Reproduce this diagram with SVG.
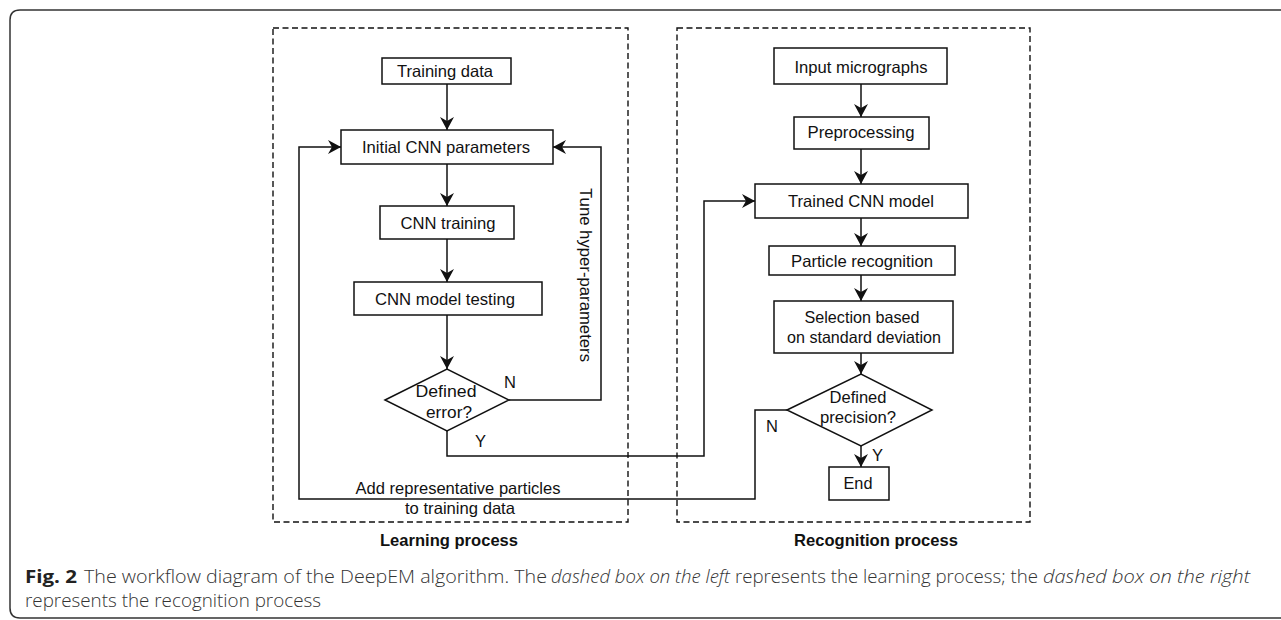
<svg xmlns="http://www.w3.org/2000/svg" width="1281" height="620" viewBox="0 0 1281 620">
  <style>
    .frame { fill: none; stroke: #333; stroke-width: 1.5; }
    .dash { fill: none; stroke: #111; stroke-width: 1.4; stroke-dasharray: 6 3.5; }
    .box { fill: #fff; stroke: #111; stroke-width: 1.5; }
    .wire { fill: none; stroke: #111; stroke-width: 1.5; }
    .lbl { font-family: "Liberation Sans", Arial, sans-serif; font-size: 16.5px; fill: #111; }
    .mid { text-anchor: middle; }
    .bold { font-weight: bold; }
    .cap { font-family: "Open Sans", "Noto Sans", sans-serif; font-size: 18px; font-weight: 300; fill: #333; }
    .it { font-style: italic; }
    .fig { font-weight: bold; fill: #222; }
  </style>
  <defs>
    <marker id="arrow" viewBox="0 0 13 14" refX="13" refY="7" markerWidth="13" markerHeight="14" markerUnits="userSpaceOnUse" orient="auto">
      <path d="M0,0 L13,7 L0,14 L4,7 Z" fill="#111"/>
    </marker>
  </defs>

  <rect width="1281" height="620" fill="#fff"/>
  <!-- figure frame, open on the right -->
  <path class="frame" d="M1290,10 H20 Q10,10 10,20 V608 Q10,618 20,618 H1290"/>

  <!-- process regions -->
  <g id="learning-region">
    <rect class="dash" x="273" y="28" width="355" height="494"/>
    <text class="lbl mid bold" x="449" y="546" textLength="138" lengthAdjust="spacingAndGlyphs">Learning process</text>
  </g>
  <g id="recognition-region">
    <rect class="dash" x="677" y="28" width="353" height="494"/>
    <text class="lbl mid bold" x="876" y="546" textLength="164" lengthAdjust="spacingAndGlyphs">Recognition process</text>
  </g>

  <!-- connectors -->
  <g id="connectors">
    <path class="wire" d="M447,84 V130" marker-end="url(#arrow)"/>
    <path class="wire" d="M447,164 V206" marker-end="url(#arrow)"/>
    <path class="wire" d="M447,239 V282" marker-end="url(#arrow)"/>
    <path class="wire" d="M447,315 V369" marker-end="url(#arrow)"/>
    <path class="wire" d="M509,400 H601 V147 H553" marker-end="url(#arrow)"/>
    <path class="wire" d="M447,431 V456 H704 V201 H755" marker-end="url(#arrow)"/>
    <path class="wire" d="M787,410 H755 V499 H299 V147 H341" marker-end="url(#arrow)"/>
    <path class="wire" d="M861,84 V117" marker-end="url(#arrow)"/>
    <path class="wire" d="M861,149 V184" marker-end="url(#arrow)"/>
    <path class="wire" d="M861,218 V246" marker-end="url(#arrow)"/>
    <path class="wire" d="M861,275 V301" marker-end="url(#arrow)"/>
    <path class="wire" d="M861,353 V374" marker-end="url(#arrow)"/>
    <path class="wire" d="M861,446 V467" marker-end="url(#arrow)"/>
    <text class="lbl" x="580" y="188" transform="rotate(90 580 188)" textLength="174" lengthAdjust="spacingAndGlyphs">Tune hyper-parameters</text>
    <text class="lbl" x="504" y="388">N</text>
    <text class="lbl" x="475" y="447">Y</text>
    <text class="lbl mid" x="458" y="494" textLength="205" lengthAdjust="spacingAndGlyphs">Add representative particles</text>
    <text class="lbl mid" x="460" y="514" textLength="110" lengthAdjust="spacingAndGlyphs">to training data</text>
    <text class="lbl" x="766" y="432">N</text>
    <text class="lbl" x="872" y="461">Y</text>
  </g>

  <!-- learning process nodes -->
  <g id="training-data">
    <rect class="box" x="382" y="58" width="129" height="26"/>
    <text class="lbl mid" x="445" y="77" textLength="96" lengthAdjust="spacingAndGlyphs">Training data</text>
  </g>
  <g id="initial-cnn">
    <rect class="box" x="341" y="130" width="212" height="34"/>
    <text class="lbl mid" x="446" y="153" textLength="168" lengthAdjust="spacingAndGlyphs">Initial CNN parameters</text>
  </g>
  <g id="cnn-training">
    <rect class="box" x="380" y="206" width="134" height="33"/>
    <text class="lbl mid" x="448" y="229" textLength="95" lengthAdjust="spacingAndGlyphs">CNN training</text>
  </g>
  <g id="cnn-testing">
    <rect class="box" x="354" y="282" width="188" height="33"/>
    <text class="lbl mid" x="445" y="305" textLength="140" lengthAdjust="spacingAndGlyphs">CNN model testing</text>
  </g>
  <g id="error-check">
    <polygon class="box" points="385,400 447,369 509,400 447,431"/>
    <text class="lbl mid" x="446" y="397" textLength="61" lengthAdjust="spacingAndGlyphs">Defined</text>
    <text class="lbl mid" x="449" y="418" textLength="46" lengthAdjust="spacingAndGlyphs">error?</text>
  </g>

  <!-- recognition process nodes -->
  <g id="input-micrographs">
    <rect class="box" x="774" y="48" width="173" height="36"/>
    <text class="lbl mid" x="861" y="73" textLength="133" lengthAdjust="spacingAndGlyphs">Input micrographs</text>
  </g>
  <g id="preprocessing">
    <rect class="box" x="794" y="117" width="135" height="32"/>
    <text class="lbl mid" x="861" y="138" textLength="107" lengthAdjust="spacingAndGlyphs">Preprocessing</text>
  </g>
  <g id="trained-cnn">
    <rect class="box" x="755" y="184" width="213" height="34"/>
    <text class="lbl mid" x="861" y="207" textLength="146" lengthAdjust="spacingAndGlyphs">Trained CNN model</text>
  </g>
  <g id="particle-recognition">
    <rect class="box" x="769" y="246" width="186" height="29"/>
    <text class="lbl mid" x="862" y="267" textLength="142" lengthAdjust="spacingAndGlyphs">Particle recognition</text>
  </g>
  <g id="selection">
    <rect class="box" x="774" y="301" width="179" height="52"/>
    <text class="lbl mid" x="862" y="323" textLength="115" lengthAdjust="spacingAndGlyphs">Selection based</text>
    <text class="lbl mid" x="864" y="343" textLength="154" lengthAdjust="spacingAndGlyphs">on standard deviation</text>
  </g>
  <g id="precision-check">
    <polygon class="box" points="787,410 861,374 932,410 861,446"/>
    <text class="lbl mid" x="858" y="403" textLength="57" lengthAdjust="spacingAndGlyphs">Defined</text>
    <text class="lbl mid" x="858" y="423" textLength="76" lengthAdjust="spacingAndGlyphs">precision?</text>
  </g>
  <g id="end">
    <rect class="box" x="829" y="467" width="60" height="33"/>
    <text class="lbl mid" x="858" y="489" textLength="29" lengthAdjust="spacingAndGlyphs">End</text>
  </g>

  <!-- caption -->
  <g id="caption">
    <text class="cap fig" x="25" y="583" textLength="52" lengthAdjust="spacingAndGlyphs">Fig. 2</text>
    <text class="cap" x="84" y="583" textLength="463" lengthAdjust="spacingAndGlyphs">The workflow diagram of the DeepEM algorithm. The</text>
    <text class="cap it" x="551" y="583" textLength="179" lengthAdjust="spacingAndGlyphs">dashed box on the left</text>
    <text class="cap" x="735" y="583" textLength="303" lengthAdjust="spacingAndGlyphs">represents the learning process; the</text>
    <text class="cap it" x="1043" y="583" textLength="207" lengthAdjust="spacingAndGlyphs">dashed box on the right</text>
    <text class="cap" x="25" y="607" textLength="296" lengthAdjust="spacingAndGlyphs">represents the recognition process</text>
  </g>
</svg>
